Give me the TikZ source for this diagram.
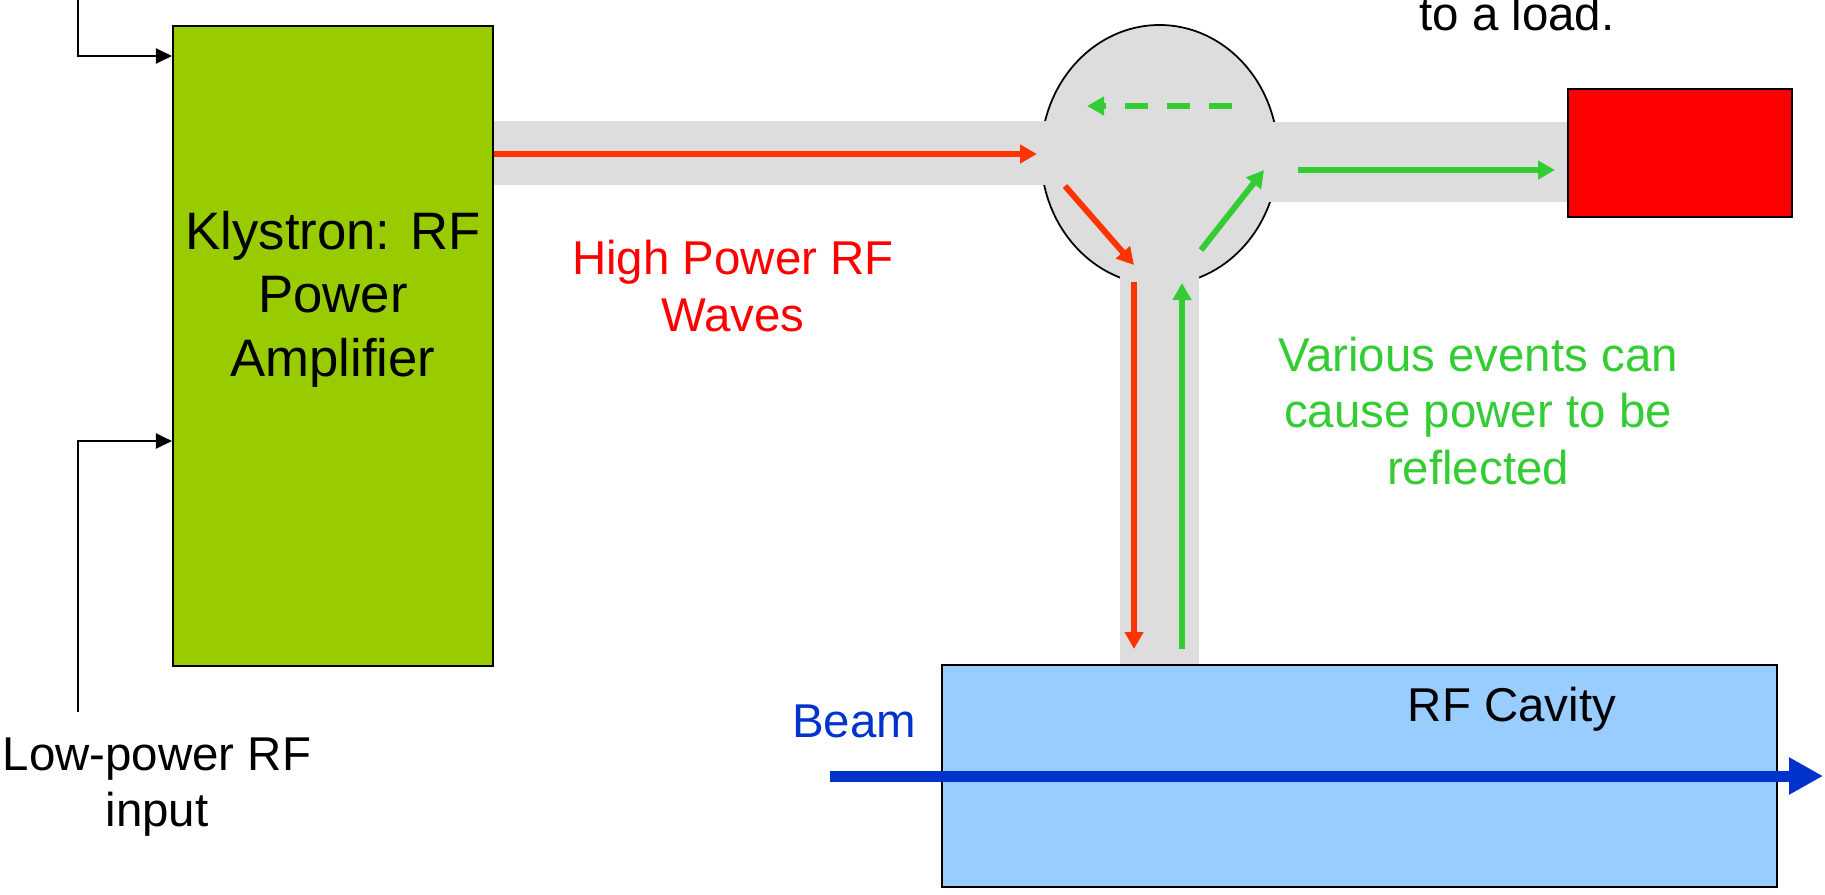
\documentclass[tikz,border=0pt]{standalone}
\usepackage{fontspec}
\setmainfont{Liberation Sans}
\usepackage{tikz}
\usetikzlibrary{arrows.meta, shapes.geometric}
\definecolor{klygreen}{HTML}{99CC00}
\definecolor{cavblue}{HTML}{99CCFF}
\definecolor{guidegray}{HTML}{DDDDDD}
\definecolor{wavered}{HTML}{FF3300}
\definecolor{wavegreen}{HTML}{33CC33}
\definecolor{beamblue}{HTML}{0033CC}

\begin{document}
\begin{tikzpicture}[box/.style = {draw, line width=0.6pt, inner sep=0pt},
  wave/.style = {line width=1.7pt, -{Triangle[length=0.17cm, width=0.18cm]}},
  sig/.style = {line width=0.6pt, -{Triangle[length=0.16cm, width=0.15cm]}},
  beam/.style = {line width=0.11cm, beamblue, -{Triangle[length=0.34cm, width=0.35cm]}},
  lbl/.style = {font=\fontsize{13.5}{16}\selectfont, align=center, inner sep=0pt}]
\useasboundingbox (0,0) rectangle (18.25,8.94);
\clip (0,0) rectangle (18.25,8.94);

\node[ellipse, draw, line width=0.5pt, fill=guidegray, minimum width=2.37cm, minimum height=2.60cm, inner sep=0pt] (circ) at (11.595,7.39) {};
\fill[guidegray] (4.93,7.73) rectangle (11.0,7.09);
\fill[guidegray] (11.8,7.72) rectangle (15.68,6.92);
\fill[guidegray] (11.20,2.29) rectangle (11.99,6.6);

\node[box, fill=klygreen, minimum width=3.2cm, minimum height=6.4cm] (kly) at (3.33,5.48) {};
\node[box, fill=red, minimum width=2.24cm, minimum height=1.28cm] (load) at (16.80,7.41) {};
\node[box, fill=cavblue, minimum width=8.35cm, minimum height=2.22cm] (cav) at (13.595,1.18) {};

\node[font=\fontsize{15}{18.1}\selectfont, align=center, inner sep=0pt] (klytxt) at (3.33,5.95) {Klystron: RF\\Power\\Amplifier};
\node[lbl] (lowtxt) at (1.57,1.07) {Low-power RF\\input};
\node[lbl, text=red] (hightxt) at (7.33,6.08) {High Power RF\\Waves};
\node[lbl, text=wavegreen] (reftxt) at (14.78,4.83) {Various events can\\cause power to be\\reflected};
\node[lbl, anchor=base] (cavtxt) at (15.12,1.73) {RF Cavity};
\node[lbl, anchor=base, text=beamblue] (beamtxt) at (8.54,1.57) {Beam};
\node[lbl, anchor=base] (loadtxt) at (15.17,8.63) {to a load.};

\coordinate (in1) at (0.78,9.1);
\coordinate (in2) at (0.78,1.82);
\draw[sig] (in1) |- (kly.west |- 0,8.38);
\draw[sig] (in2) |- (kly.west |- 0,4.53);

\coordinate (r1) at (10.37,7.40);
\coordinate (r2) at (10.65,7.08);
\coordinate (r3) at (11.34,6.29);
\coordinate (r4) at (11.34,6.12);
\coordinate (r5) at (11.34,2.45);
\draw[wave, wavered] (kly.east |- r1) -- (r1);
\draw[wave, wavered] (r2) -- (r3);
\draw[wave, wavered] (r4) -- (r5);

\coordinate (g0) at (11.82,2.45);
\coordinate (g1) at (11.82,6.11);
\coordinate (g2) at (12.01,6.44);
\coordinate (g3) at (12.64,7.24);
\coordinate (g4) at (12.98,7.24);
\coordinate (g5) at (15.55,7.24);
\coordinate (g6) at (12.32,7.88);
\coordinate (g7) at (10.87,7.88);
\draw[wave, wavegreen] (g0) -- (g1);
\draw[wave, wavegreen] (g2) -- (g3);
\draw[wave, wavegreen] (g4) -- (g5);
\draw[wave, wavegreen, dash pattern=on 0.23cm off 0.19cm] (g6) -- (g7);

\coordinate (bin) at (8.30,1.18);
\coordinate (bout) at (18.23,1.18);
\draw[beam] (bin) -- (bout);
\end{tikzpicture}
\end{document}
